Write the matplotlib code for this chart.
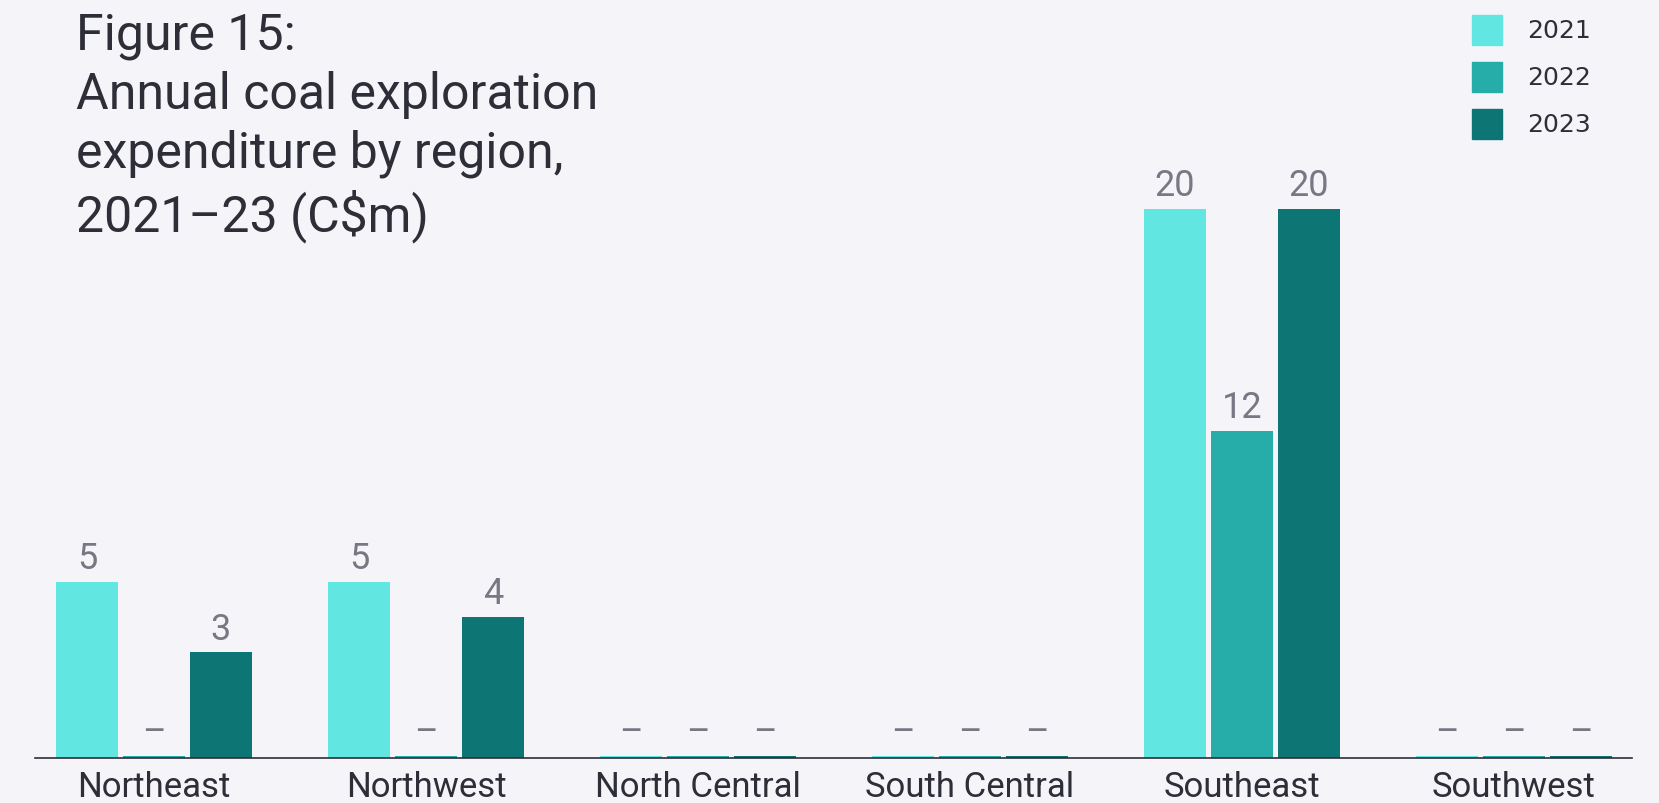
import numpy as np
import matplotlib
matplotlib.use("Agg")
import matplotlib.pyplot as plt
from matplotlib.patches import Rectangle

regions = ["Northeast", "Northwest", "North Central", "South Central", "Southeast", "Southwest"]
years = ["2021", "2022", "2023"]

# bar heights as drawn in the source (scaled so the "5" bars are 5)
h_2021 = [5.0, 5.0, 0.0, 0.0, 15.6, 0.0]
h_2022 = [0.0, 0.0, 0.0, 0.0, 9.3, 0.0]
h_2023 = [3.0, 4.0, 0.0, 0.0, 15.6, 0.0]

# printed value labels
lab_2021 = ["5", "5", "–", "–", "20", "–"]
lab_2022 = ["–", "–", "–", "–", "12", "–"]
lab_2023 = ["3", "4", "–", "–", "20", "–"]

colors = ["#61E6E1", "#26ACA9", "#0E7575"]
bg = "#F5F5F9"
dark = "#2E2E38"
grey = "#787885"

plt.rcParams['font.family'] = ['Roboto', 'DejaVu Sans']

W, H = 1659, 804
fig = plt.figure(figsize=(W / 100, H / 100), dpi=100, facecolor=bg)
ax = fig.add_axes([35 / W, 45 / H, 1597 / W, 759 / H])
ax.set_facecolor(bg)

x = np.arange(len(regions))
width = 0.228
pitch = 0.246
heights = [h_2021, h_2022, h_2023]
labels = [lab_2021, lab_2022, lab_2023]

for i in range(3):
    pos = x + (i - 1) * pitch
    vals = np.maximum(np.array(heights[i]), 0.06)  # zero bars still show a sliver
    bars = ax.bar(pos, vals, width, color=colors[i], zorder=2)
    for b, t in zip(bars, labels[i]):
        ax.annotate(t, (b.get_x() + b.get_width() / 2, b.get_height()),
                    xytext=(0, 10), textcoords="offset points",
                    ha="center", va="baseline", fontsize=26, color=grey)

ax.set_xlim(-0.4375, 5.434)
ax.set_ylim(0, 759 / 35.2)
ax.set_xticks(x)
ax.set_xticklabels(regions, fontsize=25, color=dark)
ax.tick_params(axis="x", length=0, pad=9)
ax.set_yticks([])
for s in ["top", "right", "left"]:
    ax.spines[s].set_visible(False)
ax.spines["bottom"].set_color(dark)
ax.spines["bottom"].set_linewidth(1.2)
ax.spines["bottom"].set_zorder(3)

fig.text(76 / W, 1 - 12 / H,
         "Figure 15:\nAnnual coal exploration\nexpenditure by region,\n2021–23 (C$m)",
         ha="left", va="top", fontsize=36, color=dark, linespacing=1.28)

# legend: coloured squares with year labels, top right
for i, yr in enumerate(years):
    top = 16 + i * 47
    fig.patches.append(Rectangle((1472 / W, 1 - (top + 30) / H), 30 / W, 30 / H,
                                 transform=fig.transFigure, color=colors[i]))
    fig.text(1527 / W, 1 - (top + 15) / H, yr, ha="left", va="center",
             fontsize=18, family="DejaVu Sans", color=dark)

fig.savefig("out.png", dpi=100, facecolor=bg)
